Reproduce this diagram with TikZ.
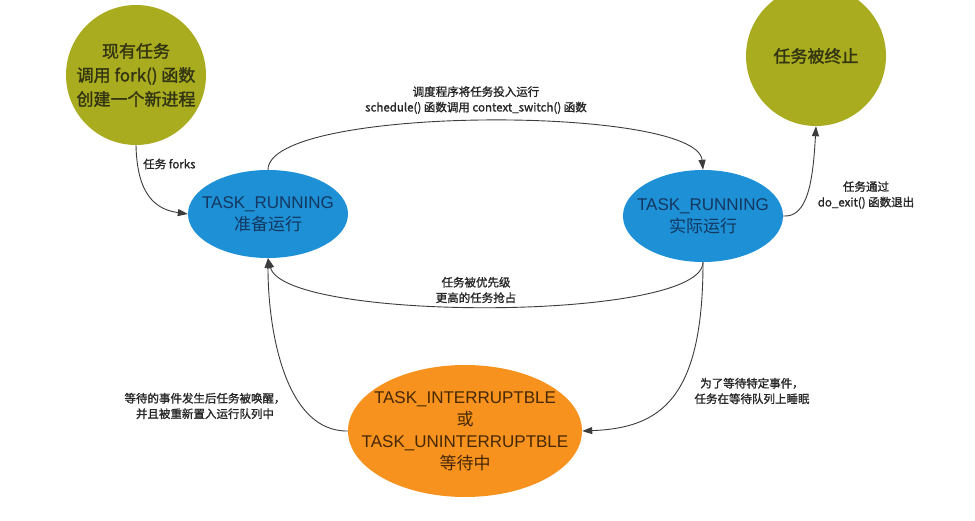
\documentclass[tikz,border=0pt]{standalone}
\usepackage{fontspec}
\setmainfont{Noto Sans CJK SC}
\newfontfamily\cjk[FakeBold=1.5]{Noto Sans CJK SC}
\newfontfamily\cjkl[FakeBold=1.3]{Noto Sans CJK SC}
\newfontfamily\lat{Liberation Sans}
\usetikzlibrary{shapes.geometric,arrows.meta}
\definecolor{olivec}{RGB}{168,172,30}
\definecolor{bluec}{RGB}{30,144,214}
\definecolor{orangec}{RGB}{247,146,30}
\definecolor{linec}{RGB}{60,60,60}
\definecolor{olivetext}{RGB}{50,52,20}
\definecolor{bluetext}{RGB}{20,55,95}
\definecolor{orangetext}{RGB}{70,40,5}
\tikzset{
  circ/.style={circle, inner sep=0pt, minimum size=140pt, fill=olivec, text=olivetext,
     align=center, font=\cjk\fontsize{17pt}{24pt}\selectfont},
  ell/.style={ellipse, inner sep=0pt},
  elltext/.style={inner sep=0pt, align=center, font=\fontsize{17pt}{22pt}\selectfont},
  conn/.style={draw=linec, line width=0.9pt, -{Triangle[length=10pt,width=7pt]}},
  lbl/.style={align=center, inner sep=0pt, text=black!85, font=\cjkl\fontsize{11.5pt}{15.5pt}\selectfont}
}
\begin{document}
\begin{tikzpicture}[x=1pt,y=-1pt]
\useasboundingbox[fill=white] (0,0) rectangle (975,521);

\node[circ] (fork) at (136,75) {现有任务\\调用 fork() 函数\\创建一个新进程};
\node[circ] (term) at (816,56) {任务被终止};

\node[ell, fill=bluec, minimum width=160pt, minimum height=88pt] (ready) at (268,214) {};
\node[elltext, text=bluetext] (readyt) at (ready.center) {{\lat TASK\_RUNNING}\\准备运行};
\node[ell, fill=bluec, minimum width=160pt, minimum height=92pt] (run) at (703,216) {};
\node[elltext, text=bluetext] (runt) at (run.center) {{\lat TASK\_RUNNING}\\实际运行};
\node[ell, fill=orangec, minimum width=234pt, minimum height=132pt] (wait) at (465,431) {};
\node[elltext, text=orangetext] (waitt) at (wait.center)
  {{\lat TASK\_INTERRUPTBLE}\\或\\{\lat TASK\_UNINTERRUPTBLE}\\等待中};

% edges
\draw[conn] (fork.south) .. controls (137,200) and (160,210) .. (ready.west);
\draw[conn] (ready.north) .. controls (268,105) and (697,105) .. (run.north);
\draw[conn] (run.east) .. controls (808,218) and (813,180) .. (term.south);
\draw[conn] (run.south) .. controls (703,322) and (285,322) .. (ready.south);
\draw[conn] (run.south) .. controls (703,400) and (660,428) .. (wait.east);
\draw[conn] (wait.west) .. controls (285,432) and (268,330) .. (ready.south);

% labels
\node[lbl, anchor=west] (lfork) at (143,164) {任务 forks};
\node[lbl] (lsched) at (476,100) {调度程序将任务投入运行\\schedule() 函数调用 context\_switch() 函数};
\node[lbl] (lexit) at (866,195) {任务通过\\do\_exit() 函数退出};
\node[lbl] (lpre) at (476,290) {任务被优先级\\更高的任务抢占};
\node[lbl] (lsleep) at (752,391) {为了等待特定事件，\\任务在等待队列上睡眠};
\node[lbl] (lwake) at (205,406) {等待的事件发生后任务被唤醒，\\并且被重新置入运行队列中};
\end{tikzpicture}
\end{document}
